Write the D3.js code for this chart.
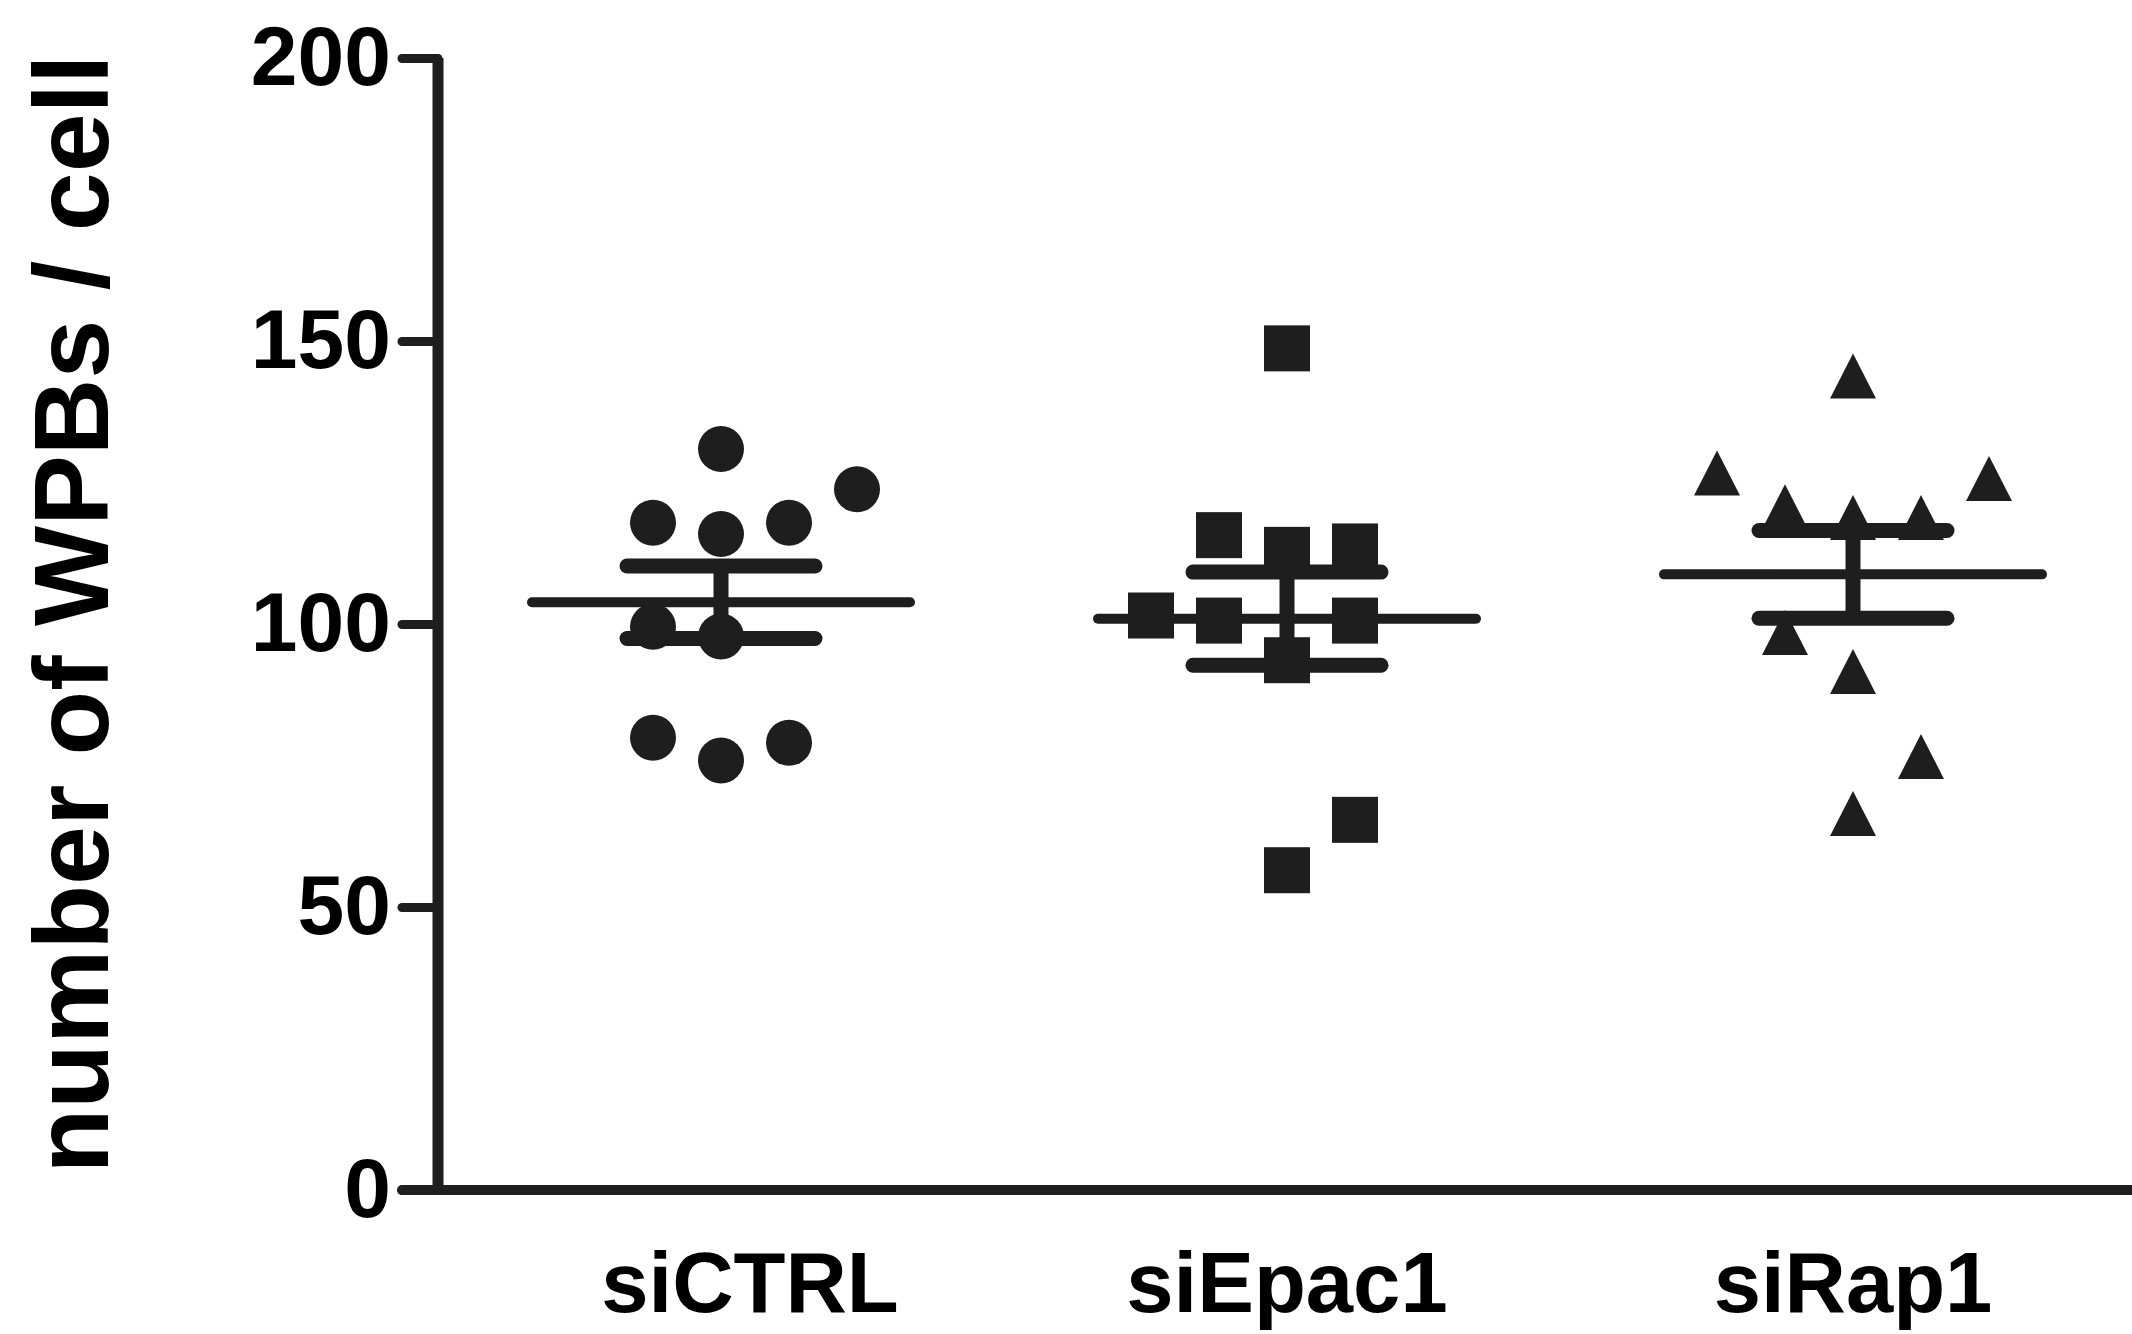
<!DOCTYPE html>
<html>
<head>
<meta charset="utf-8">
<script src="https://cdn.jsdelivr.net/npm/d3@7"></script>
<style>
  html, body { margin: 0; padding: 0; background: #fff; }
  svg { display: block; }
</style>
</head>
<body>
<svg id="chart" width="2132" height="1334"></svg>
<script>
// ---------- data ----------
const categories = ["siCTRL", "siEpac1", "siRap1"];
const siCTRLValues  = [130.9, 123.8, 117.9, 115.9, 117.9, 99.5, 97.8, 79.9, 75.9, 79.0];
const siEpac1Values = [148.7, 115.7, 113.1, 113.7, 101.5, 100.6, 100.6, 93.6, 65.4, 56.5];
const siRap1Values  = [143.8, 126.7, 125.7, 120.7, 118.8, 118.8, 98.5, 91.6, 76.6, 66.5];
const yTickValues = [0, 50, 100, 150, 200];
const yLabel = "number of WPBs / cell";

// ---------- layout (scatter column slots, styles) ----------
const siCTRLSlots  = [0, 2, -1, 0, 1, -1, 0, -1, 0, 1];
const siEpac1Slots = [0, -1, 0, 1, -2, -1, 1, 0, 1, 0];
const siRap1Slots  = [0, -2, 2, -1, 0, 1, -1, 0, 1, 0];
const slotWidth = 68;
const ink = "#1e1e1e";

const groups = [
  { name: categories[0], values: siCTRLValues,  slots: siCTRLSlots,  shape: "circle" },
  { name: categories[1], values: siEpac1Values, slots: siEpac1Slots, shape: "square" },
  { name: categories[2], values: siRap1Values,  slots: siRap1Slots,  shape: "triangle" }
];

const svg = d3.select("#chart");
const axisX = 438, axisY = 1190, topY = 58;

const x = d3.scaleBand().domain(categories).range([axisX, 2136]).padding(0);
const y = d3.scaleLinear().domain([0, 200]).range([axisY, topY]);
const cx = name => x(name) + x.bandwidth() / 2;

// ---------- mean & SEM bars ----------
const stats = groups.map(g => {
  const m = d3.mean(g.values);
  const sem = d3.deviation(g.values) / Math.sqrt(g.values.length);
  return { name: g.name, mean: m, lo: m - sem, hi: m + sem };
});

const bars = svg.append("g").attr("stroke", ink).attr("stroke-linecap", "round").attr("fill", "none");
stats.forEach(s => {
  const c = cx(s.name);
  bars.append("line").attr("x1", c - 189).attr("x2", c + 189)
    .attr("y1", y(s.mean)).attr("y2", y(s.mean)).attr("stroke-width", 10);
  bars.append("line").attr("x1", c).attr("x2", c)
    .attr("y1", y(s.hi)).attr("y2", y(s.lo)).attr("stroke-width", 15).attr("stroke-linecap", "butt");
  [s.hi, s.lo].forEach(v => {
    bars.append("line").attr("x1", c - 94).attr("x2", c + 94)
      .attr("y1", y(v)).attr("y2", y(v)).attr("stroke-width", 15);
  });
});

// ---------- points ----------
const pts = svg.append("g").attr("fill", ink);
groups.forEach(g => {
  g.values.forEach((v, i) => {
    const px = cx(g.name) + g.slots[i] * slotWidth;
    const py = y(v);
    if (g.shape === "circle") {
      pts.append("circle").attr("cx", px).attr("cy", py).attr("r", 23);
    } else if (g.shape === "square") {
      pts.append("rect").attr("x", px - 23).attr("y", py - 23).attr("width", 46).attr("height", 46);
    } else {
      const w = 46, h = 45;
      pts.append("path").attr("d",
        `M${px},${py - h / 2} L${px + w / 2},${py + h / 2} L${px - w / 2},${py + h / 2} Z`);
    }
  });
});

// ---------- axes ----------
const yAxis = d3.axisLeft(y).tickValues(yTickValues).tickSize(36).tickPadding(11).tickFormat(d3.format("d"));
const gy = svg.append("g").attr("transform", `translate(${axisX},0)`).call(yAxis);
gy.select(".domain").remove();
gy.selectAll(".tick line").attr("stroke", ink).attr("stroke-width", 9).attr("stroke-linecap", "round");
gy.selectAll(".tick text")
  .attr("fill", "#000")
  .style("font-family", "'Liberation Sans', Arial, sans-serif")
  .style("font-weight", "bold")
  .style("font-size", "84px");

// axis lines
svg.append("line").attr("x1", axisX).attr("x2", axisX).attr("y1", y(200)).attr("y2", axisY)
  .attr("stroke", ink).attr("stroke-width", 11);
svg.append("line").attr("x1", axisX - 36).attr("x2", 2140).attr("y1", axisY).attr("y2", axisY)
  .attr("stroke", ink).attr("stroke-width", 10).attr("stroke-linecap", "round");

const xAxis = d3.axisBottom(x).tickSize(0).tickPadding(62);
const gx = svg.append("g").attr("transform", `translate(0,${axisY})`).call(xAxis);
gx.select(".domain").remove();
gx.selectAll(".tick text")
  .attr("fill", "#000")
  .attr("dx", (d, i) => i === 0 ? 29 : 0)
  .style("font-family", "'Liberation Sans', Arial, sans-serif")
  .style("font-weight", "bold")
  .style("font-size", "85px");

// y title
svg.append("text")
  .attr("transform", `translate(108,614) rotate(-90)`)
  .attr("text-anchor", "middle")
  .attr("fill", "#000")
  .style("font-family", "'Liberation Sans', Arial, sans-serif")
  .style("font-weight", "bold")
  .style("font-size", "106px")
  .text(yLabel);
</script>
</body>
</html>
